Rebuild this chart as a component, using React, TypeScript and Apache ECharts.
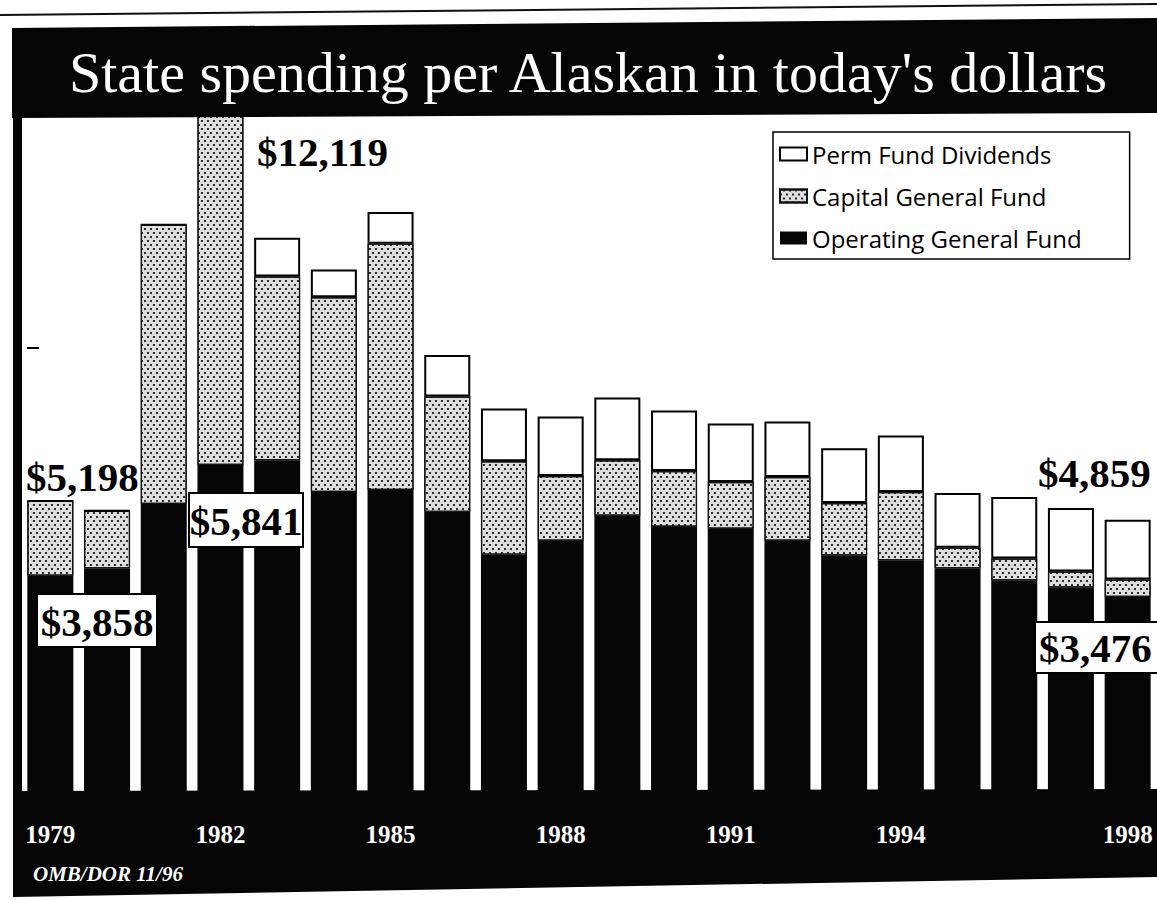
import React, { useEffect, useRef } from "react";
import * as echarts from "echarts";

const years = ["1979", "1980", "1981", "1982", "1983", "1984", "1985", "1986", "1987", "1988", "1989", "1990", "1991", "1992", "1993", "1994", "1995", "1996", "1997", "1998"];
const operating = [3858, 3987, 5144, 5841, 5927, 5358, 5393, 5002, 4236, 4486, 4931, 4735, 4699, 4486, 4219, 4130, 3987, 3774, 3649, 3476];
const capital = [1340, 1033, 5002, 6278, 3293, 3489, 4415, 2065, 1674, 1157, 996, 997, 837, 1139, 943, 1228, 374, 391, 285, 315];
const dividends = [0, 0, 0, 0, 695, 498, 569, 747, 943, 1068, 1122, 1085, 1050, 997, 979, 1014, 979, 1104, 1139, 1068];
const labeledYears = ["1979", "1982", "1985", "1988", "1991", "1994", "1998"];
const seriesNames = ["Perm Fund Dividends", "Capital General Fund", "Operating General Fund"];
const titleText = "State spending per Alaskan in today's dollars";
const sourceText = "OMB/DOR 11/96";

const fmt = (v: number) => "$" + v.toLocaleString("en-US");
const totalOf = (y: string) => {
  const i = years.indexOf(y);
  return operating[i] + capital[i] + dividends[i];
};
const opOf = (y: string) => operating[years.indexOf(y)];

export default function App() {
  const ref = useRef<HTMLDivElement>(null);
  useEffect(() => {
    document.body.style.margin = "0";
    const chart = echarts.init(ref.current!, null, { renderer: "svg" });
    const serif = "'Liberation Serif', 'Times New Roman', serif";
    const bigFont = { fontFamily: serif, fontWeight: "bold", fontSize: 41, fill: "#000" };
    const box = (x: number, y: number, w: number, h: number) => ({
      type: "rect",
      z: 60,
      shape: { x, y, width: w, height: h },
      style: { fill: "#fff", stroke: "#000", lineWidth: 2 },
    });
    chart.setOption({
      animation: false,
      backgroundColor: "#fff",
      grid: { left: 22, right: 1, top: 99, bottom: 109, containLabel: false },
      xAxis: {
        type: "category",
        data: years,
        z: 20,
        axisLine: { show: false },
        axisTick: { show: false },
        axisLabel: {
          interval: (_i: number, v: string) => labeledYears.includes(v),
          color: "#fff",
          fontFamily: serif,
          fontWeight: "bold",
          fontSize: 25,
          margin: 31,
        },
      },
      yAxis: { type: "value", min: 0, max: 12400, show: false, splitLine: { show: false } },
      legend: {
        orient: "vertical",
        left: 773,
        top: 132,
        data: seriesNames,
        icon: "rect",
        itemWidth: 27,
        itemHeight: 13,
        itemGap: 16,
        padding: [9, 48, 8, 6],
        borderColor: "#000",
        borderWidth: 1.5,
        backgroundColor: "#fff",
        selectedMode: false,
        textStyle: { fontFamily: "'Open Sans', sans-serif", fontSize: 24, color: "#000", lineHeight: 26 },
      },
      series: [
        {
          name: "Operating General Fund",
          type: "bar",
          stack: "s",
          data: operating,
          barWidth: 46,
          itemStyle: { color: "#060606" },
        },
        {
          name: "Capital General Fund",
          type: "bar",
          stack: "s",
          data: capital,
          barWidth: 46,
          itemStyle: {
            color: "#dedede",
            borderColor: "#111",
            borderWidth: 1.2,
            decal: {
              symbol: "circle",
              symbolSize: 1.1,
              dashArrayX: [[2, 4], [0, 3, 2, 1]],
              dashArrayY: [2, 2],
              color: "#151515",
            },
          },
        },
        {
          name: "Perm Fund Dividends",
          type: "bar",
          stack: "s",
          data: dividends,
          barWidth: 46,
          itemStyle: { color: "#fff", borderColor: "#000", borderWidth: 2 },
        },
      ],
      graphic: [
        { type: "line", z: 50, shape: { x1: 0, y1: 15, x2: 1157, y2: 4 }, style: { stroke: "#111", lineWidth: 2 } },
        { type: "polygon", z: 50, shape: { points: [[12, 28], [1157, 18], [1157, 113], [12, 118]] }, style: { fill: "#050505" } },
        {
          type: "text", z: 51, x: 588, y: 72,
          style: { text: titleText, fill: "#fff", fontFamily: serif, fontSize: 58, textAlign: "center", textVerticalAlign: "middle" },
        },
        { type: "rect", z: 50, shape: { x: 13, y: 115, width: 9, height: 690 }, style: { fill: "#050505" } },
        { type: "line", z: 50, shape: { x1: 27, y1: 348, x2: 39, y2: 348 }, style: { stroke: "#000", lineWidth: 2 } },
        { type: "polygon", z: 1, shape: { points: [[13, 791], [1157, 789], [1157, 877], [13, 897]] }, style: { fill: "#050505" } },
        {
          type: "text", z: 51, x: 33, y: 874,
          style: { text: sourceText, fill: "#fff", fontFamily: serif, fontStyle: "italic", fontWeight: "bold", fontSize: 21, textAlign: "left", textVerticalAlign: "middle" },
        },
        { type: "text", z: 61, x: 257, y: 152, style: { ...bigFont, text: fmt(totalOf("1982")), textAlign: "left", textVerticalAlign: "middle" } },
        { type: "text", z: 61, x: 26, y: 477, style: { ...bigFont, text: fmt(totalOf("1979")), textAlign: "left", textVerticalAlign: "middle" } },
        box(37, 594, 120, 53),
        { type: "text", z: 61, x: 97, y: 622, style: { ...bigFont, text: fmt(opOf("1979")), textAlign: "center", textVerticalAlign: "middle" } },
        box(189, 493, 114, 54),
        { type: "text", z: 61, x: 246, y: 521, style: { ...bigFont, text: fmt(opOf("1982")), textAlign: "center", textVerticalAlign: "middle" } },
        { type: "text", z: 61, x: 1038, y: 473, style: { ...bigFont, text: fmt(totalOf("1998")), textAlign: "left", textVerticalAlign: "middle" } },
        box(1035, 622, 130, 51),
        { type: "text", z: 61, x: 1039, y: 648, style: { ...bigFont, text: fmt(opOf("1998")), textAlign: "left", textVerticalAlign: "middle" } },
      ],
    });
    return () => chart.dispose();
  }, []);
  return <div ref={ref} style={{ width: 1157, height: 900, background: "#fff" }} />;
}
